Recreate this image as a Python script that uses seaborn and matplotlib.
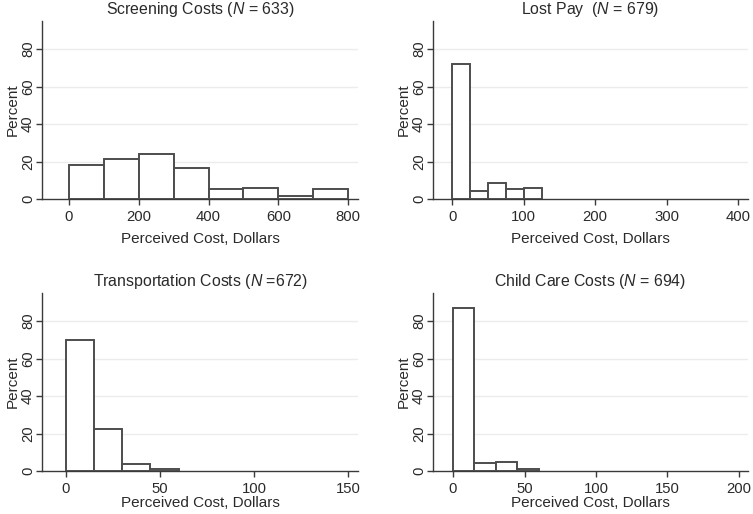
import numpy as np
import matplotlib
matplotlib.use("Agg")
import matplotlib.pyplot as plt
import seaborn as sns

# bin edges and percent per bin
screen_edges = [0, 100, 200, 300, 400, 500, 600, 700, 800]
screen_pct = [18.1, 21.5, 23.8, 16.5, 5.1, 5.7, 1.4, 5.3]

lostpay_edges = [0, 25, 50, 75, 100, 125]
lostpay_pct = [72.2, 4.1, 8.4, 5.2, 6.0]

transport_edges = [0, 15, 30, 45, 60]
transport_pct = [69.9, 22.4, 3.9, 1.0]

child_edges = [0, 15, 30, 45, 60]
child_pct = [87.1, 4.1, 4.6, 1.1]

titles = ["Screening Costs ($\\it{N}$ = 633)",
          "Lost Pay  ($\\it{N}$ = 679)",
          "Transportation Costs ($\\it{N}$ =672)",
          "Child Care Costs ($\\it{N}$ = 694)"]
xticks = [[0, 200, 400, 600, 800], [0, 100, 200, 300, 400],
          [0, 50, 100, 150], [0, 50, 100, 150, 200]]
xlims = [(-77, 828), (-27, 414), (-12.6, 155.3), (-14, 206.3)]

sns.set_style("white")
plt.rcParams['font.family'] = ['Liberation Sans', 'DejaVu Sans']
plt.rcParams['mathtext.fontset'] = 'custom'
plt.rcParams['mathtext.it'] = 'Liberation Sans:italic'
plt.rcParams['mathtext.rm'] = 'Liberation Sans'

fig = plt.figure(figsize=(7.53, 5.14), dpi=100)
W, H = 753, 514
boxes = [(42, 21, 358, 199), (433, 21, 748, 199),
         (42, 293, 358, 471), (433, 293, 748, 471)]

panels = [(screen_edges, screen_pct), (lostpay_edges, lostpay_pct),
          (transport_edges, transport_pct), (child_edges, child_pct)]

dark = "#3a3a3a"
txt = "#2a2a2a"
for i, ((edges, pct), box) in enumerate(zip(panels, boxes)):
    l, t, r, b = box
    ax = fig.add_axes([l / W, 1 - b / H, (r - l) / W, (b - t) / H])
    starts = edges[:-1]
    sns.histplot(x=starts, weights=pct, bins=edges, stat="count",
                 color="white", edgecolor="#4d4d4d", linewidth=1.4,
                 alpha=1, ax=ax, zorder=3)
    ax.set_xlim(*xlims[i])
    ax.set_ylim(0, 95)
    ax.set_xticks(xticks[i])
    ax.set_yticks([0, 20, 40, 60, 80])
    for yv in [20, 40, 60, 80]:
        ax.axhline(yv, color="#ececec", lw=1.0, zorder=1)
    for s in ["top", "right"]:
        ax.spines[s].set_visible(False)
    for s in ["left", "bottom"]:
        ax.spines[s].set_color(dark)
        ax.spines[s].set_linewidth(1.0)
    ax.tick_params(axis="both", direction="out", length=4, width=1.0,
                   color=dark, labelsize=10.7, labelcolor=txt,
                   bottom=True, left=True)
    ax.tick_params(axis="x", pad=4)
    ax.tick_params(axis="y", pad=1)
    for lab in ax.get_yticklabels():
        lab.set_rotation(90)
        lab.set_va("center")
    pad_x = 6 if i < 2 else 0
    ax.set_xlabel("Perceived Cost, Dollars", fontsize=11, color=txt, labelpad=pad_x)
    ax.set_ylabel("Percent", fontsize=11, color=txt, labelpad=1)
    ax.set_title(titles[i], fontsize=11.4, color=txt, pad=5)

fig.savefig("out.png", dpi=100)
